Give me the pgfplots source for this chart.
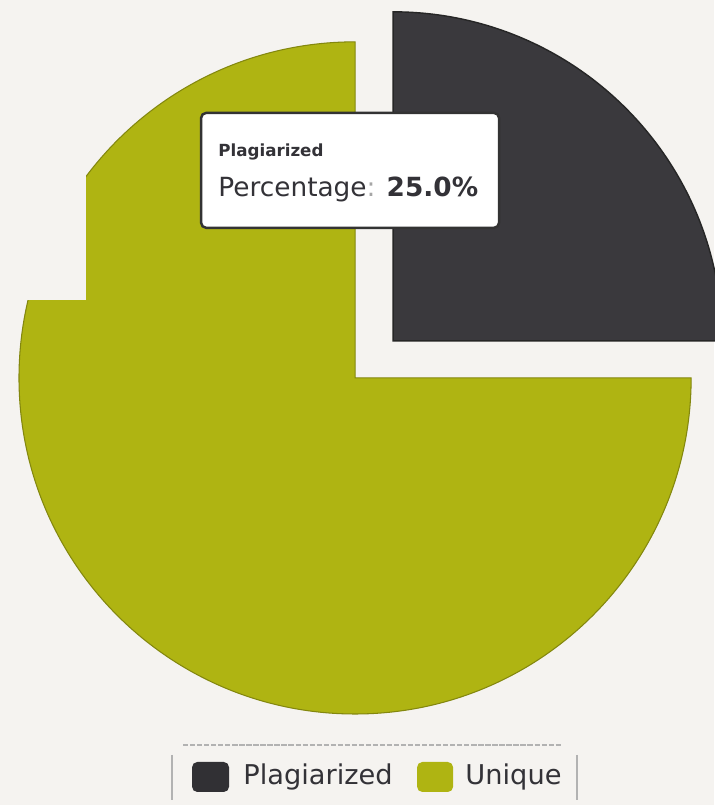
\documentclass[border=0pt]{standalone}
\usepackage{pgfplots}
\pgfplotsset{compat=1.18}
\usepackage{pgfplotstable}
\usepackage{fontspec}
\setmainfont{DejaVu Sans}
\definecolor{bg}{HTML}{F5F3F0}
\definecolor{plag}{HTML}{3A393D}
\definecolor{uniq}{HTML}{AFB412}
\definecolor{txt}{HTML}{333237}

% value = share in percent; cx, cy, r = slice centre and radius (pixel units)
\pgfplotstableread{
label value cx cy r
Plagiarized 25 393 464 329
Unique 75 355 427 336
}\pietable

\begin{document}
\begin{tikzpicture}
\useasboundingbox (0,0) rectangle (14.28cm,16.1cm);
\fill[bg] (0,0) rectangle (14.28cm,16.1cm);
% read table
\pgfplotstablegetelem{0}{value}\of\pietable \pgfmathsetmacro\vP{\pgfplotsretval}
\pgfplotstablegetelem{0}{cx}\of\pietable \pgfmathsetmacro\cxP{\pgfplotsretval}
\pgfplotstablegetelem{0}{cy}\of\pietable \pgfmathsetmacro\cyP{\pgfplotsretval}
\pgfplotstablegetelem{0}{r}\of\pietable \pgfmathsetmacro\rP{\pgfplotsretval}
\pgfplotstablegetelem{1}{value}\of\pietable \pgfmathsetmacro\vU{\pgfplotsretval}
\pgfplotstablegetelem{1}{cx}\of\pietable \pgfmathsetmacro\cxU{\pgfplotsretval}
\pgfplotstablegetelem{1}{cy}\of\pietable \pgfmathsetmacro\cyU{\pgfplotsretval}
\pgfplotstablegetelem{1}{r}\of\pietable \pgfmathsetmacro\rU{\pgfplotsretval}
\pgfmathsetmacro\sumV{\vP+\vU}
\pgfmathsetmacro\aP{360*(\vP/\sumV)}
\pgfmathsetmacro\aU{\aP+360*(\vU/\sumV)}
\pgfmathsetmacro\xEP{\cxP+\rP}
\pgfmathsetmacro\yEU{\cyU+\rU}
\pgfmathsetmacro\rPcm{\rP*0.02}
\pgfmathsetmacro\rUcm{\rU*0.02}
\begin{axis}[at={(0,0)}, anchor=south west, x=0.02cm, y=0.02cm,
  xmin=0, xmax=714, ymin=0, ymax=805, hide axis, clip=false]
% Unique slice
\fill[uniq, draw=uniq!75!black, line width=0.6pt]
  (axis cs:\cxU,\cyU) -- (axis cs:\cxU,\yEU)
  arc[start angle=\aP, end angle=\aU, radius=\rUcm cm] -- cycle;
% notch artefact on left
\fill[bg] (axis cs:0,505) rectangle (axis cs:86,648);
% Plagiarized slice (exploded)
\fill[plag, draw=black!85, line width=0.8pt]
  (axis cs:\cxP,\cyP) -- (axis cs:\xEP,\cyP)
  arc[start angle=0, end angle=\aP, radius=\rPcm cm] -- cycle;
% tooltip
\draw[draw=black!80, line width=1.4pt, fill=white!97!bg, rounded corners=3pt]
  (axis cs:201,692) rectangle (axis cs:499,577);
\node[anchor=base west, inner sep=0, text=txt,
  font=\bfseries\fontsize{9.5}{11}\selectfont] at (axis cs:218,648) {Plagiarized};
\node[anchor=base west, inner sep=0, text=txt,
  font=\fontsize{15}{18}\selectfont] at (axis cs:218,608)
  {Percentage\textcolor{black!35}{:} \textbf{25.0\%}};
% legend
\draw[black!30, line width=0.6pt, dash pattern=on 3pt off 1pt] (axis cs:183,60) -- (axis cs:562,60);
\draw[black!30, line width=0.8pt] (axis cs:172,50) -- (axis cs:172,5);
\draw[black!30, line width=0.8pt] (axis cs:577,50) -- (axis cs:577,5);
\fill[plag!85!black, rounded corners=3pt] (axis cs:192,43) rectangle (axis cs:229,13);
\fill[uniq, rounded corners=3pt] (axis cs:417,43) rectangle (axis cs:453,13);
\node[anchor=base west, inner sep=0, text=txt,
  font=\fontsize{15.5}{18}\selectfont] at (axis cs:243,20) {Plagiarized};
\node[anchor=base west, inner sep=0, text=txt,
  font=\fontsize{15.5}{18}\selectfont] at (axis cs:465,20) {Unique};
\end{axis}
\end{tikzpicture}
\end{document}
